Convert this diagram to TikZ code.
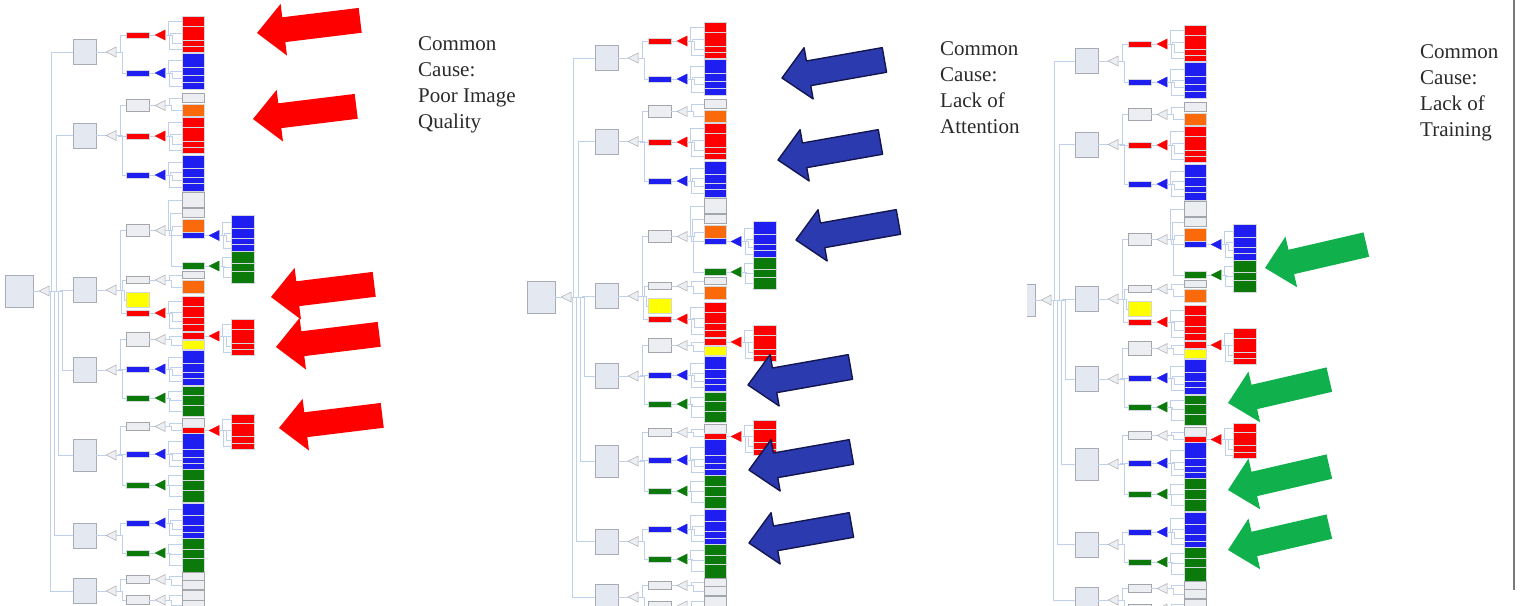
\documentclass[tikz,border=0pt]{standalone}
\usepackage{fontspec}
\setmainfont{Liberation Serif}
\usetikzlibrary{shapes.geometric}
\definecolor{lineblue}{HTML}{BFD0EA}
\definecolor{l2fill}{HTML}{E4E8F1}
\definecolor{l2edge}{HTML}{A7ACB8}
\definecolor{grayfill}{HTML}{EDEEF1}
\definecolor{grayedge}{HTML}{A3A6AD}
\definecolor{cred}{HTML}{FF0000}
\definecolor{cblue}{HTML}{1E1EF0}
\definecolor{cgreen}{HTML}{0B7A0B}
\definecolor{corange}{HTML}{FA6A0A}
\definecolor{cyellow}{HTML}{FFFF00}
\definecolor{baredge}{HTML}{D5D7DE}
\definecolor{arrred}{HTML}{FF0000}
\definecolor{arrblue}{HTML}{2B3AAE}
\definecolor{arrblueedge}{HTML}{141650}
\definecolor{arrgreen}{HTML}{10B04C}
\definecolor{txt}{HTML}{2A2A2A}
\definecolor{frameline}{HTML}{7A7A7A}
\tikzset{
  conn/.style={draw=lineblue, line width=0.6pt},
  bx/.style={rectangle, inner sep=0pt, line width=0.5pt},
  rootbox/.style={bx, fill=l2fill, draw=l2edge, minimum width=28pt, minimum height=32pt},
  l2box/.style={bx, fill=l2fill, draw=l2edge, minimum width=23pt, minimum height=25pt},
  Q3/.style={bx, fill=grayfill, draw=grayedge, minimum width=23pt},
  Y3/.style={bx, fill=cyellow, draw=baredge, minimum width=23pt},
  bar3/.style={bx, draw=baredge, minimum width=23pt, minimum height=6pt},
  R3/.style={bar3, fill=cred}, B3/.style={bar3, fill=cblue}, G3/.style={bar3, fill=cgreen},
  col4/.style={bx, draw=baredge, minimum width=22pt},
  R4/.style={col4, fill=cred}, B4/.style={col4, fill=cblue}, G4/.style={col4, fill=cgreen},
  O4/.style={col4, fill=corange}, Y4/.style={col4, fill=cyellow}, Q4/.style={col4, fill=grayfill, draw=grayedge},
  col5/.style={bx, draw=baredge, minimum width=23pt},
  R5/.style={col5, fill=cred}, B5/.style={col5, fill=cblue}, G5/.style={col5, fill=cgreen},
  gate/.style={isosceles triangle, isosceles triangle stretches=true, shape border rotate=180,
    inner sep=0pt, minimum width=10pt, minimum height=10pt, line width=0.4pt},
  gg/.style={gate, fill=grayfill, draw=grayedge},
  gr/.style={gate, fill=cred, draw=cred},
  gb/.style={gate, fill=cblue, draw=cblue},
  gn/.style={gate, fill=cgreen, draw=cgreen},
  redarrow/.style={fill=arrred},
  bluearrow/.style={fill=arrblue, draw=arrblueedge, line width=1.4pt, line join=round},
  greenarrow/.style={fill=arrgreen},
  cause/.style={anchor=base west, inner sep=0pt, text=txt, font=\fontsize{21}{26}\selectfont},
}
\newcommand\lf[5]{\node[#2, minimum height={#5-#4+0.7}] (#1) at (#3,{(#4+#5)/2}) {};}
\newcommand\Lf[4]{\lf{#1}{#2}{193}{#3}{#4}}
\newcommand\Lv[4]{\lf{#1}{#2}{242.5}{#3}{#4}}
\newcommand\gt[4]{\node[#2] (#1) at (#3,#4) {};}
\newcommand\cn[3]{\draw[conn] (#1.east) -- ++(#3,0) |- (#2.west);}
\newcommand\hl[2]{\draw[conn] (#1.east) -- (#2.west);}
\newcommand\bigarrow[4]{\begin{scope}[shift={(#1,#2)},rotate=#3]
  \path[#4] (0,0) -- (27,-26) -- (27,-12.5) -- (104,-12.5) -- (104,12.5) -- (27,12.5) -- (27,26) -- cycle;
  \end{scope}}
\newcommand\treebody{%
  % root
  \node[rootbox] (R) at (19,291) {};
  \gt{G0}{gg}{46}{291}\hl{R}{G0}
  \node[l2box] (A) at (84.5,52) {};
  \node[l2box] (B) at (84.5,135.5) {};
  \node[l2box] (C) at (84.5,290) {};
  \node[l2box] (D) at (84.5,370) {};
  \node[l2box, minimum height=32pt] (E) at (84.5,455) {};
  \node[l2box] (F) at (84.5,535.5) {};
  \node[l2box] (H) at (84.5,591) {};
  \cn{G0}{A}{2.5}\cn{G0}{B}{7.5}\cn{G0}{C}{11}\cn{G0}{D}{13.5}
  \cn{G0}{E}{9.5}\cn{G0}{F}{5.5}\cn{G0}{H}{1.5}
  % A
  \gt{GA}{gg}{113}{52}\hl{A}{GA}
  \node[R3] (a1) at (137.5,35) {};
  \node[B3] (a2) at (137.5,73) {};
  \cn{GA}{a1}{4}\cn{GA}{a2}{6}
  \gt{Ga1}{gr}{162}{35}\hl{a1}{Ga1}
  \Lf{a1p}{R4}{17}{26}\Lf{a1q}{R4}{26.5}{40.5}\Lf{a1r}{R4}{41}{46.5}\Lf{a1s}{R4}{47}{52}
  \cn{Ga1}{a1p}{3}\cn{Ga1}{a1q}{5}\cn{Ga1}{a1r}{7}\cn{Ga1}{a1s}{4}
  \gt{Ga2}{gb}{162}{73}\hl{a2}{Ga2}
  \Lf{a2p}{B4}{54}{67.5}\Lf{a2q}{B4}{68}{75.5}\Lf{a2r}{B4}{76}{81.5}\Lf{a2s}{B4}{83}{89}
  \cn{Ga2}{a2p}{3}\cn{Ga2}{a2q}{5}\cn{Ga2}{a2r}{7}\cn{Ga2}{a2s}{4}
  % B
  \gt{GB}{gg}{113}{135.5}\hl{B}{GB}
  \lf{b1}{Q3}{137.5}{100}{111}
  \node[R3] (b2) at (137.5,136) {};
  \node[B3] (b3) at (137.5,175) {};
  \cn{GB}{b1}{4}\cn{GB}{b2}{2}\cn{GB}{b3}{6}
  \gt{Gb1}{gg}{162}{105.5}\hl{b1}{Gb1}
  \Lf{b1p}{Q4}{94}{102}\Lf{b1q}{O4}{105}{116}
  \cn{Gb1}{b1p}{4}\cn{Gb1}{b1q}{6}
  \gt{Gb2}{gr}{162}{136}\hl{b2}{Gb2}
  \Lf{b2p}{R4}{118}{127.5}\Lf{b2q}{R4}{128}{141.5}\Lf{b2r}{R4}{142}{147.5}\Lf{b2s}{R4}{148}{153}
  \cn{Gb2}{b2p}{3}\cn{Gb2}{b2q}{5}\cn{Gb2}{b2r}{7}\cn{Gb2}{b2s}{4}
  \gt{Gb3}{gb}{162}{175}\hl{b3}{Gb3}
  \Lf{b3p}{B4}{156}{168}\Lf{b3q}{B4}{168.5}{177}\Lf{b3r}{B4}{177.5}{183.5}\Lf{b3s}{B4}{184}{191}
  \cn{Gb3}{b3p}{3}\cn{Gb3}{b3q}{5}\cn{Gb3}{b3r}{7}\cn{Gb3}{b3s}{4}
  % C
  \gt{GC}{gg}{113}{290}\hl{C}{GC}
  \lf{c1}{Q3}{137.5}{225}{236}
  \lf{c2}{Q3}{137.5}{277}{283}
  \lf{c3}{Y3}{137.5}{293}{307}
  \node[R3] (c4) at (137.5,313) {};
  \cn{GC}{c1}{4}\cn{GC}{c2}{6}\cn{GC}{c3}{8}\cn{GC}{c4}{5}
  \gt{Gc1}{gg}{162}{230.5}\hl{c1}{Gc1}
  \Lf{c1p}{Q4}{193}{207}\Lf{c1q}{Q4}{209}{217}\Lf{c1r}{O4}{220}{232}\Lf{c1s}{B4}{233}{238}\Lf{c1t}{G4}{263}{269}
  \cn{Gc1}{c1p}{3}\cn{Gc1}{c1q}{5}\cn{Gc1}{c1r}{7}\cn{Gc1}{c1s}{4}\cn{Gc1}{c1t}{6}
  \gt{Gc1s}{gb}{216}{235.5}\hl{c1s}{Gc1s}
  \Lv{c1sp}{B5}{216}{228.5}\Lv{c1sq}{B5}{229}{238.5}\Lv{c1sr}{B5}{239}{244.5}\Lv{c1ss}{B5}{245}{251}
  \cn{Gc1s}{c1sp}{3}\cn{Gc1s}{c1sq}{5}\cn{Gc1s}{c1sr}{7}\cn{Gc1s}{c1ss}{4}
  \gt{Gc1t}{gn}{216}{266}\hl{c1t}{Gc1t}
  \Lv{c1tp}{G5}{252}{263.5}\Lv{c1tq}{G5}{264}{271.5}\Lv{c1tr}{G5}{272}{283}
  \cn{Gc1t}{c1tp}{3}\cn{Gc1t}{c1tq}{5}\cn{Gc1t}{c1tr}{4}
  \gt{Gc2}{gg}{162}{280}\hl{c2}{Gc2}
  \Lf{c2p}{Q4}{272}{278}\Lf{c2q}{O4}{281}{293}
  \cn{Gc2}{c2p}{4}\cn{Gc2}{c2q}{6}
  \gt{Gc4}{gr}{162}{313}\hl{c4}{Gc4}
  \Lf{c4p}{R4}{297}{306.5}\Lf{c4q}{R4}{307}{317.5}\Lf{c4r}{R4}{318}{324}\Lf{c4s}{R4}{325}{331}
  \cn{Gc4}{c4p}{3}\cn{Gc4}{c4q}{5}\cn{Gc4}{c4r}{7}\cn{Gc4}{c4s}{4}
  % D
  \gt{GD}{gg}{113}{370}\hl{D}{GD}
  \lf{d1}{Q3}{137.5}{333}{346}
  \node[B3] (d2) at (137.5,369) {};
  \node[G3] (d3) at (137.5,398) {};
  \cn{GD}{d1}{4}\cn{GD}{d2}{2}\cn{GD}{d3}{6}
  \gt{Gd1}{gg}{162}{339.5}\hl{d1}{Gd1}
  \Lf{d1p}{R4}{333}{339}\Lf{d1q}{Y4}{341}{349}
  \cn{Gd1}{d1p}{4}\cn{Gd1}{d1q}{6}
  \gt{Gd1p}{gr}{216}{336}\hl{d1p}{Gd1p}
  \Lv{d1pp}{R5}{320}{329.5}\Lv{d1pq}{R5}{330}{343.5}\Lv{d1pr}{R5}{344}{349.5}\Lv{d1ps}{R5}{350}{355}
  \cn{Gd1p}{d1pp}{3}\cn{Gd1p}{d1pq}{5}\cn{Gd1p}{d1pr}{7}\cn{Gd1p}{d1ps}{4}
  \gt{Gd2}{gb}{162}{369}\hl{d2}{Gd2}
  \Lf{d2p}{B4}{351}{363}\Lf{d2q}{B4}{363.5}{372}\Lf{d2r}{B4}{372.5}{378.5}\Lf{d2s}{B4}{379}{384.5}
  \cn{Gd2}{d2p}{3}\cn{Gd2}{d2q}{5}\cn{Gd2}{d2r}{7}\cn{Gd2}{d2s}{4}
  \gt{Gd3}{gn}{162}{398}\hl{d3}{Gd3}
  \Lf{d3p}{G4}{387}{395.5}\Lf{d3q}{G4}{396}{405.5}\Lf{d3r}{G4}{406}{416}
  \cn{Gd3}{d3p}{3}\cn{Gd3}{d3q}{5}\cn{Gd3}{d3r}{4}
  % E
  \gt{GE}{gg}{113}{455}\hl{E}{GE}
  \lf{e1}{Q3}{137.5}{423}{430}
  \node[B3] (e2) at (137.5,454) {};
  \node[G3] (e3) at (137.5,485) {};
  \cn{GE}{e1}{4}\cn{GE}{e2}{2}\cn{GE}{e3}{6}
  \gt{Ge1}{gg}{162}{426.5}\hl{e1}{Ge1}
  \Lf{e1p}{Q4}{419}{427}\Lf{e1q}{R4}{428}{433}
  \cn{Ge1}{e1p}{4}\cn{Ge1}{e1q}{6}
  \gt{Ge1q}{gr}{216}{430.5}\hl{e1q}{Ge1q}
  \Lv{e1qp}{R5}{415}{423.5}\Lv{e1qq}{R5}{424}{436.5}\Lv{e1qr}{R5}{437}{443}\Lv{e1qs}{R5}{444}{449}
  \cn{Ge1q}{e1qp}{3}\cn{Ge1q}{e1qq}{5}\cn{Ge1q}{e1qr}{7}\cn{Ge1q}{e1qs}{4}
  \gt{Ge2}{gb}{162}{454}\hl{e2}{Ge2}
  \Lf{e2p}{B4}{434}{449.5}\Lf{e2q}{B4}{450}{457}\Lf{e2r}{B4}{457.5}{463.5}\Lf{e2s}{B4}{464}{469.5}
  \cn{Ge2}{e2p}{3}\cn{Ge2}{e2q}{5}\cn{Ge2}{e2r}{7}\cn{Ge2}{e2s}{4}
  \gt{Ge3}{gn}{162}{485}\hl{e3}{Ge3}
  \Lf{e3p}{G4}{470}{480.5}\Lf{e3q}{G4}{481}{490.5}\Lf{e3r}{G4}{491}{502}
  \cn{Ge3}{e3p}{3}\cn{Ge3}{e3q}{5}\cn{Ge3}{e3r}{4}
  % F
  \gt{GF}{gg}{113}{535.5}\hl{F}{GF}
  \node[B3] (f1) at (137.5,523) {};
  \node[G3] (f2) at (137.5,553) {};
  \cn{GF}{f1}{4}\cn{GF}{f2}{6}
  \gt{Gf1}{gb}{162}{523}\hl{f1}{Gf1}
  \Lf{f1p}{B4}{504}{515.5}\Lf{f1q}{B4}{516}{525.5}\Lf{f1r}{B4}{526}{532}\Lf{f1s}{B4}{533}{538.5}
  \cn{Gf1}{f1p}{3}\cn{Gf1}{f1q}{5}\cn{Gf1}{f1r}{7}\cn{Gf1}{f1s}{4}
  \gt{Gf2}{gn}{162}{553}\hl{f2}{Gf2}
  \Lf{f2p}{G4}{539}{549.5}\Lf{f2q}{G4}{550}{558.5}\Lf{f2r}{G4}{559}{572}
  \cn{Gf2}{f2p}{3}\cn{Gf2}{f2q}{5}\cn{Gf2}{f2r}{4}
  % H
  \gt{GH}{gg}{113}{591}\hl{H}{GH}
  \lf{h1}{Q3}{137.5}{576}{583}
  \lf{h2}{Q3}{137.5}{596}{604}
  \cn{GH}{h1}{4}\cn{GH}{h2}{6}
  \gt{Gh1}{gg}{162}{579.5}\hl{h1}{Gh1}
  \Lf{h1p}{Q4}{573}{580}\Lf{h1q}{Q4}{581}{589}
  \cn{Gh1}{h1p}{4}\cn{Gh1}{h1q}{6}
  \gt{Gh2}{gg}{162}{600}\hl{h2}{Gh2}
  \Lf{h2p}{Q4}{591}{600}\Lf{h2q}{Q4}{601}{609}
  \cn{Gh2}{h2p}{4}\cn{Gh2}{h2q}{6}
}
\begin{document}
\begin{tikzpicture}[x=1pt,y=-1pt]
  \useasboundingbox (0,0) rectangle (1520,605);
  \clip (0,0) rectangle (1520,605);
  % three copies of the fault tree
  \begin{scope}[name prefix=ta-]
    \treebody
  \end{scope}
  \begin{scope}[shift={(522,6)}, name prefix=tb-]
    \treebody
  \end{scope}
  \begin{scope}
    \clip (1027,0) rectangle (1520,605);
    \begin{scope}[shift={(1002,9)}, name prefix=tc-]
      \treebody
    \end{scope}
  \end{scope}
  % captions
  \node[cause] (p1a) at (418,50) {Common};
  \node[cause] (p1b) at (418,76) {Cause:};
  \node[cause] (p1c) at (418,102) {Poor Image};
  \node[cause] (p1d) at (418,128) {Quality};
  \node[cause] (p2a) at (940,55) {Common};
  \node[cause] (p2b) at (940,81) {Cause:};
  \node[cause] (p2c) at (940,107) {Lack of};
  \node[cause] (p2d) at (940,133) {Attention};
  \node[cause] (p3a) at (1420,58) {Common};
  \node[cause] (p3b) at (1420,84) {Cause:};
  \node[cause] (p3c) at (1420,110) {Lack of};
  \node[cause] (p3d) at (1420,136) {Training};
  % big arrows
  \bigarrow{257}{33}{7}{redarrow}
  \bigarrow{253}{119}{7}{redarrow}
  \bigarrow{271}{297}{7}{redarrow}
  \bigarrow{276}{347}{7}{redarrow}
  \bigarrow{279}{428}{7}{redarrow}
  \bigarrow{782}{78}{10}{bluearrow}
  \bigarrow{778}{160}{10}{bluearrow}
  \bigarrow{796}{240}{10}{bluearrow}
  \bigarrow{748}{385}{10}{bluearrow}
  \bigarrow{749}{470}{10}{bluearrow}
  \bigarrow{749}{543}{10}{bluearrow}
  \bigarrow{1265}{268}{13}{greenarrow}
  \bigarrow{1228}{403}{13}{greenarrow}
  \bigarrow{1228}{490}{13}{greenarrow}
  \bigarrow{1228}{550}{13}{greenarrow}
  % right border line
  \draw[frameline, line width=1.6pt] (1514,0) -- (1514,590);
\end{tikzpicture}
\end{document}
